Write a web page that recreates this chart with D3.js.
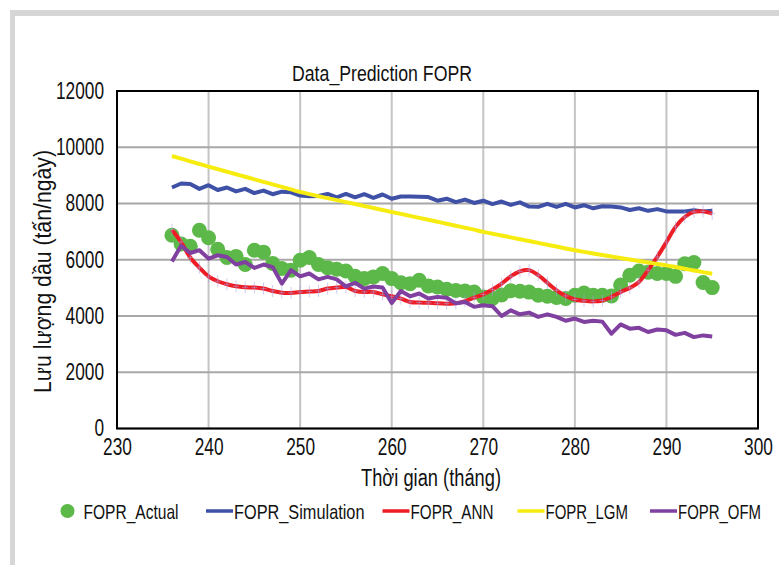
<!DOCTYPE html>
<html>
<head>
<meta charset="utf-8">
<script src="https://cdn.jsdelivr.net/npm/d3@7"></script>
<style>
  body { margin: 0; background: #fff; }
  text { font-family: "Liberation Sans Narrow", "Liberation Sans", Arial, sans-serif; fill: #111; }
</style>
</head>
<body>
<div id="chart"></div>
<script>
const months = [236,237,238,239,240,241,242,243,244,245,246,247,248,249,250,251,252,253,254,255,
  256,257,258,259,260,261,262,263,264,265,266,267,268,269,270,271,272,273,274,275,
  276,277,278,279,280,281,282,283,284,285,286,287,288,289,290,291,292,293,294,295]

const actual = [6870,6560,6480,7050,6780,6370,6080,6120,5830,6340,6270,5870,5690,5630,5980,6080,5830,5720,5660,5600,
  5410,5330,5390,5510,5330,5180,5150,5270,5070,5030,4950,4910,4890,4850,4680,4620,4750,4900,4880,4850,
  4740,4700,4660,4620,4740,4820,4740,4740,4710,5100,5450,5600,5560,5510,5510,5410,5860,5900,5190,5010]

const simulation = [8570,8710,8690,8520,8650,8480,8570,8430,8520,8370,8460,8330,8420,8400,8280,8260,8270,8340,8220,8340,
  8220,8330,8200,8320,8170,8250,8250,8240,8230,8100,8170,8050,8140,8020,8100,7980,8070,7950,8040,7890,
  7880,7990,7880,7990,7860,7940,7830,7900,7890,7860,7770,7830,7740,7800,7720,7720,7720,7760,7720,7740]

const ann = [7070,6630,6080,5720,5410,5235,5130,5055,5020,5010,4975,4890,4830,4820,4855,4870,4890,4975,5010,5030,
  4890,4855,4855,4770,4700,4620,4500,4480,4470,4450,4440,4450,4530,4650,4770,4940,5150,5410,5590,5630,
  5450,5180,4915,4715,4585,4540,4520,4550,4680,4855,5000,5210,5630,6100,6630,7170,7520,7700,7720,7640]

const lgm = [9690,9595,9500,9405,9310,9220,9130,9040,8950,8860,8770,8680,8590,8500,8410,8335,8260,8190,8120,8050,
  7980,7910,7840,7770,7700,7630,7560,7490,7420,7350,7280,7210,7140,7070,6990,6925,6860,6795,6730,6665,
  6600,6535,6470,6400,6335,6280,6225,6170,6115,6060,6010,5955,5905,5850,5800,5740,5680,5620,5560,5505]

const ofm = [5940,6500,6240,6340,6040,6160,6100,5830,5920,5710,5830,5740,5150,5630,5410,5510,5300,5390,5300,5050,
  5180,4975,5050,5010,4460,4890,4700,4800,4620,4680,4650,4450,4500,4325,4385,4350,4000,4200,4060,4120,
  3970,4060,3970,3830,3910,3790,3830,3800,3370,3700,3550,3580,3430,3520,3490,3330,3400,3250,3310,3275]

const xTicks = [230,240,250,260,270,280,290,300]
const yTicks = [0,2000,4000,6000,8000,10000,12000]

const seriesNames = ["FOPR_Actual","FOPR_Simulation","FOPR_ANN","FOPR_LGM","FOPR_OFM"]
const seriesColors = ["#5cb848","#3f51a6","#ee1c25","#f7ec0f","#8040a0"]

const width = 779, height = 565
const digitW = 9.6   // condensed digit width in the reference

// squeeze a text to a given width (the reference uses a condensed face)
const fit = (sel, w) => sel.attr("textLength", w).attr("lengthAdjust", "spacingAndGlyphs")

const svg = d3.select("#chart").append("svg").attr("width", width).attr("height", height)

svg.append("rect").attr("width", width).attr("height", height).attr("fill", "#fff")

// grey frame of the surrounding document
svg.append("rect").attr("x", 10).attr("y", 10).attr("width", width - 10).attr("height", 6).attr("fill", "#d6d6d6")
svg.append("rect").attr("x", 10).attr("y", 10).attr("width", 5).attr("height", height - 10).attr("fill", "#d6d6d6")

const xscale = d3.scaleLinear().domain([230, 300]).range([117, 758])
const yscale = d3.scaleLinear().domain([0, 12000]).range([428.5, 91])

// gridlines
svg.append("g")
  .selectAll("line")
  .data(xTicks)
  .join("line")
  .attr("x1", d => xscale(d)).attr("x2", d => xscale(d))
  .attr("y1", yscale(0)).attr("y2", yscale(12000))
  .attr("stroke", "#c4c4c4").attr("stroke-width", 2)

svg.append("g")
  .selectAll("line")
  .data(yTicks)
  .join("line")
  .attr("x1", xscale(230)).attr("x2", xscale(300))
  .attr("y1", d => yscale(d)).attr("y2", d => yscale(d))
  .attr("stroke", "#a8a8a8").attr("stroke-width", 2)

// axes (labels only)
const xAxis = g => g
  .attr("transform", `translate(0,${yscale(0)})`)
  .call(d3.axisBottom(xscale).tickValues(xTicks).tickSize(0).tickPadding(10).tickFormat(d3.format("d")))
  .call(g => g.select(".domain").remove())
  .call(g => g.selectAll("text").attr("font-size", 23).attr("font-family", null)
    .each(function(d) { fit(d3.select(this), String(d).length * digitW) }))

const yAxis = g => g
  .attr("transform", `translate(${xscale(230)},0)`)
  .call(d3.axisLeft(yscale).tickValues(yTicks).tickSize(0).tickPadding(13).tickFormat(d3.format("d")))
  .call(g => g.select(".domain").remove())
  .call(g => g.selectAll("text").attr("font-size", 23).attr("font-family", null)
    .each(function(d) { fit(d3.select(this), String(d).length * digitW) }))

svg.append("g").call(xAxis)
svg.append("g").call(yAxis)

// ============================
// Series
// ============================

const rows = months.map((m, i) => ({
  m: m, actual: actual[i], sim: simulation[i], ann: ann[i], lgm: lgm[i], ofm: ofm[i]
}))

const lineFor = (key, curve) => d3.line()
  .curve(curve || d3.curveLinear)
  .x(d => xscale(d.m))
  .y(d => yscale(d[key]))

svg.append("g")
  .attr("fill", seriesColors[0])
  .selectAll("circle")
  .data(rows)
  .join("circle")
  .attr("cx", d => xscale(d.m))
  .attr("cy", d => yscale(d.actual))
  .attr("r", 7.5)

svg.append("path").datum(rows)
  .attr("fill", "none").attr("stroke", seriesColors[1]).attr("stroke-width", 4)
  .attr("stroke-linejoin", "round")
  .attr("d", lineFor("sim"))

svg.append("path").datum(rows)
  .attr("fill", "none").attr("stroke", seriesColors[2]).attr("stroke-width", 4)
  .attr("stroke-linejoin", "round")
  .attr("d", lineFor("ann", d3.curveCatmullRom.alpha(0.5)))

// faint "+" markers on the ANN series
svg.append("g")
  .attr("stroke", "rgba(170,160,225,0.55)").attr("stroke-width", 1)
  .selectAll("path")
  .data(rows)
  .join("path")
  .attr("d", d => {
    const cx = xscale(d.m), cy = yscale(d.ann)
    return `M${cx},${cy - 6}V${cy + 6}M${cx - 3},${cy}H${cx + 3}`
  })

svg.append("path").datum(rows)
  .attr("fill", "none").attr("stroke", seriesColors[3]).attr("stroke-width", 4)
  .attr("d", lineFor("lgm", d3.curveCatmullRom.alpha(0.5)))

svg.append("path").datum(rows)
  .attr("fill", "none").attr("stroke", seriesColors[4]).attr("stroke-width", 4)
  .attr("stroke-linejoin", "round")
  .attr("d", lineFor("ofm"))

// plot frame
svg.append("rect")
  .attr("x", xscale(230)).attr("y", yscale(12000))
  .attr("width", xscale(300) - xscale(230)).attr("height", yscale(0) - yscale(12000))
  .attr("fill", "none").attr("stroke", "#000").attr("stroke-width", 2)

// titles
svg.append("text")
  .attr("x", 292).attr("y", 81)
  .attr("font-size", 22)
  .text("Data_Prediction FOPR")
  .call(fit, 180)

svg.append("text")
  .attr("x", 361).attr("y", 486)
  .attr("font-size", 23)
  .text("Thời gian (tháng)")
  .call(fit, 140)

svg.append("text")
  .attr("transform", "translate(51,393) rotate(-90)")
  .attr("font-size", 23)
  .text("Lưu lượng dầu (tấn/ngày)")
  .call(fit, 243)

// legend
const legendX = [67.5, 206, 382.5, 517.5, 650]
const legendW = [95, 130.5, 83, 82.5, 83]
const legend = svg.append("g").attr("transform", "translate(0,511)")

seriesNames.forEach((name, i) => {
  const g = legend.append("g").attr("transform", `translate(${legendX[i]},0)`)
  if (i === 0) {
    g.append("circle").attr("cx", 0).attr("cy", 0).attr("r", 7).attr("fill", seriesColors[0])
    g.append("text").attr("x", 16).attr("y", 8).attr("font-size", 21).text(name).call(fit, legendW[i])
  } else {
    g.append("line").attr("x1", 0).attr("x2", 27).attr("y1", 0).attr("y2", 0)
      .attr("stroke", seriesColors[i]).attr("stroke-width", 3.5)
    g.append("text").attr("x", 28).attr("y", 8).attr("font-size", 21).text(name).call(fit, legendW[i])
  }
})
</script>
</body>
</html>
